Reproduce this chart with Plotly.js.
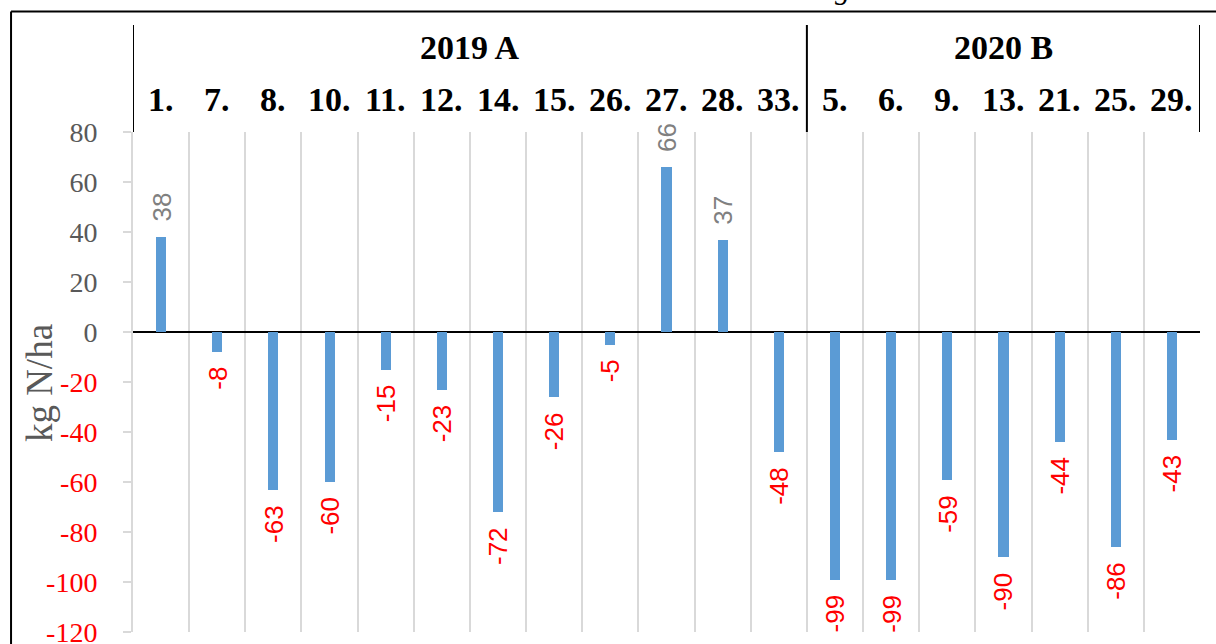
<!DOCTYPE html>
<html>
<head>
<meta charset="utf-8">
<script src="https://cdn.plot.ly/plotly-3.0.1.min.js"></script>
<style>html,body{margin:0;padding:0;background:#fff;}#chart{width:1216px;height:644px;}</style>
</head>
<body>
<div id="chart"></div>
<script>
// ---- data ----
const categories = ["1.","7.","8.","10.","11.","12.","14.","15.","26.","27.","28.","33.","5.","6.","9.","13.","21.","25.","29."];
const values = [38, -8, -63, -60, -15, -23, -72, -26, -5, 66, 37, -48, -99, -99, -59, -90, -44, -86, -43];
const groupNames = ["2019 A", "2020 B"];
const groupSizes = [12, 7];
const yTickVals = [80, 60, 40, 20, 0, -20, -40, -60, -80, -100, -120];
const yTitle = "kg N/ha";

// ---- styles ----
const barColor = "#5b9bd5";
const posLabelColor = "#808080";
const negLabelColor = "#ff0000";
const tickGray = "#595959";
const gridGray = "#d9d9d9";

const ticktext = yTickVals.map(v => v < 0
  ? '<span style="color:' + negLabelColor + '">' + v + '</span>'
  : '<span style="color:' + tickGray + '">' + v + '</span>');

const trace = {
  type: "bar",
  x: categories,
  y: values,
  width: 0.18,
  marker: {color: barColor},
  hoverinfo: "x+y"
};

const annotations = [];
// data labels (x given as category index)
values.forEach((v, i) => {
  annotations.push({
    x: i, y: v, xref: "x", yref: "y",
    text: String(v), showarrow: false, textangle: -90,
    yanchor: v >= 0 ? "bottom" : "top", xanchor: "center",
    yshift: v >= 0 ? 13 : -13,
    font: {family: "Liberation Sans, Arial, sans-serif", size: 26, color: v >= 0 ? posLabelColor : negLabelColor}
  });
});
// category number labels
categories.forEach((c, i) => {
  annotations.push({
    x: i, y: 1.064, xref: "x", yref: "paper", text: "<b>" + c + "</b>", showarrow: false,
    xanchor: "center", yanchor: "middle",
    font: {family: "Liberation Serif, Times New Roman, serif", size: 34, color: "#000"}
  });
});
// group labels and separators
const shapes = [];
let start = 0;
groupNames.forEach((g, k) => {
  const center = start + (groupSizes[k] - 1) / 2;
  annotations.push({
    x: center, y: 1.17, xref: "x", yref: "paper", text: "<b>" + g + "</b>", showarrow: false,
    xanchor: "center", yanchor: "middle",
    font: {family: "Liberation Serif, Times New Roman, serif", size: 34, color: "#000"}
  });
  shapes.push({type: "line", xref: "x", yref: "paper", x0: start - 0.5, x1: start - 0.5, y0: 1, y1: 1.214,
    line: {color: "#000", width: 2}});
  start += groupSizes[k];
});
shapes.push({type: "line", xref: "x", yref: "paper", x0: start - 0.5, x1: start - 0.5, y0: 1, y1: 1.214,
  line: {color: "#000", width: 2}});
// outer frame
shapes.push({type: "line", xref: "paper", yref: "paper", x0: -0.1143, x1: 1.02, y0: 1.241, y1: 1.241, line: {color: "#000", width: 2}});
shapes.push({type: "line", xref: "paper", yref: "paper", x0: -0.1143, x1: -0.1143, y0: 1.241, y1: -0.03, line: {color: "#000", width: 2}});

// y title
annotations.push({
  x: -0.088, y: 0.498, xref: "paper", yref: "paper", text: yTitle, showarrow: false, textangle: -90,
  xanchor: "center", yanchor: "middle",
  font: {family: "Liberation Serif, Times New Roman, serif", size: 37, color: tickGray}
});
// partially visible title above the frame
annotations.push({
  x: 0.665, y: 1.25, xref: "paper", yref: "paper", text: "<i>g</i>", showarrow: false,
  xanchor: "center", yanchor: "bottom",
  font: {family: "Liberation Serif, Times New Roman, serif", size: 30, color: "#000"}
});

const layout = {
  width: 1216, height: 644,
  margin: {l: 133, r: 16, t: 132, b: 12},
  paper_bgcolor: "#fff", plot_bgcolor: "#fff",
  showlegend: false,
  bargap: 0,
  xaxis: {
    type: "category",
    range: [-0.5, categories.length - 0.5],
    showticklabels: false, ticks: "",
    tickson: "boundaries",
    showgrid: true, gridcolor: gridGray, gridwidth: 2,
    showline: false, zeroline: false, fixedrange: true
  },
  yaxis: {
    range: [-120, 80],
    tickvals: yTickVals, ticktext: ticktext,
    ticks: "outside", ticklen: 8, tickcolor: gridGray, tickwidth: 2,
    ticklabelstandoff: 20,
    ticklabeloverflow: "allow",
    showline: true, linecolor: gridGray, linewidth: 2,
    showgrid: false,
    zeroline: true, zerolinecolor: "#000", zerolinewidth: 2,
    tickfont: {family: "Liberation Serif, Times New Roman, serif", size: 28, color: tickGray},
    fixedrange: true
  },
  annotations: annotations,
  shapes: shapes
};

Plotly.newPlot("chart", [trace], layout, {displayModeBar: false, staticPlot: true});
</script>
</body>
</html>
